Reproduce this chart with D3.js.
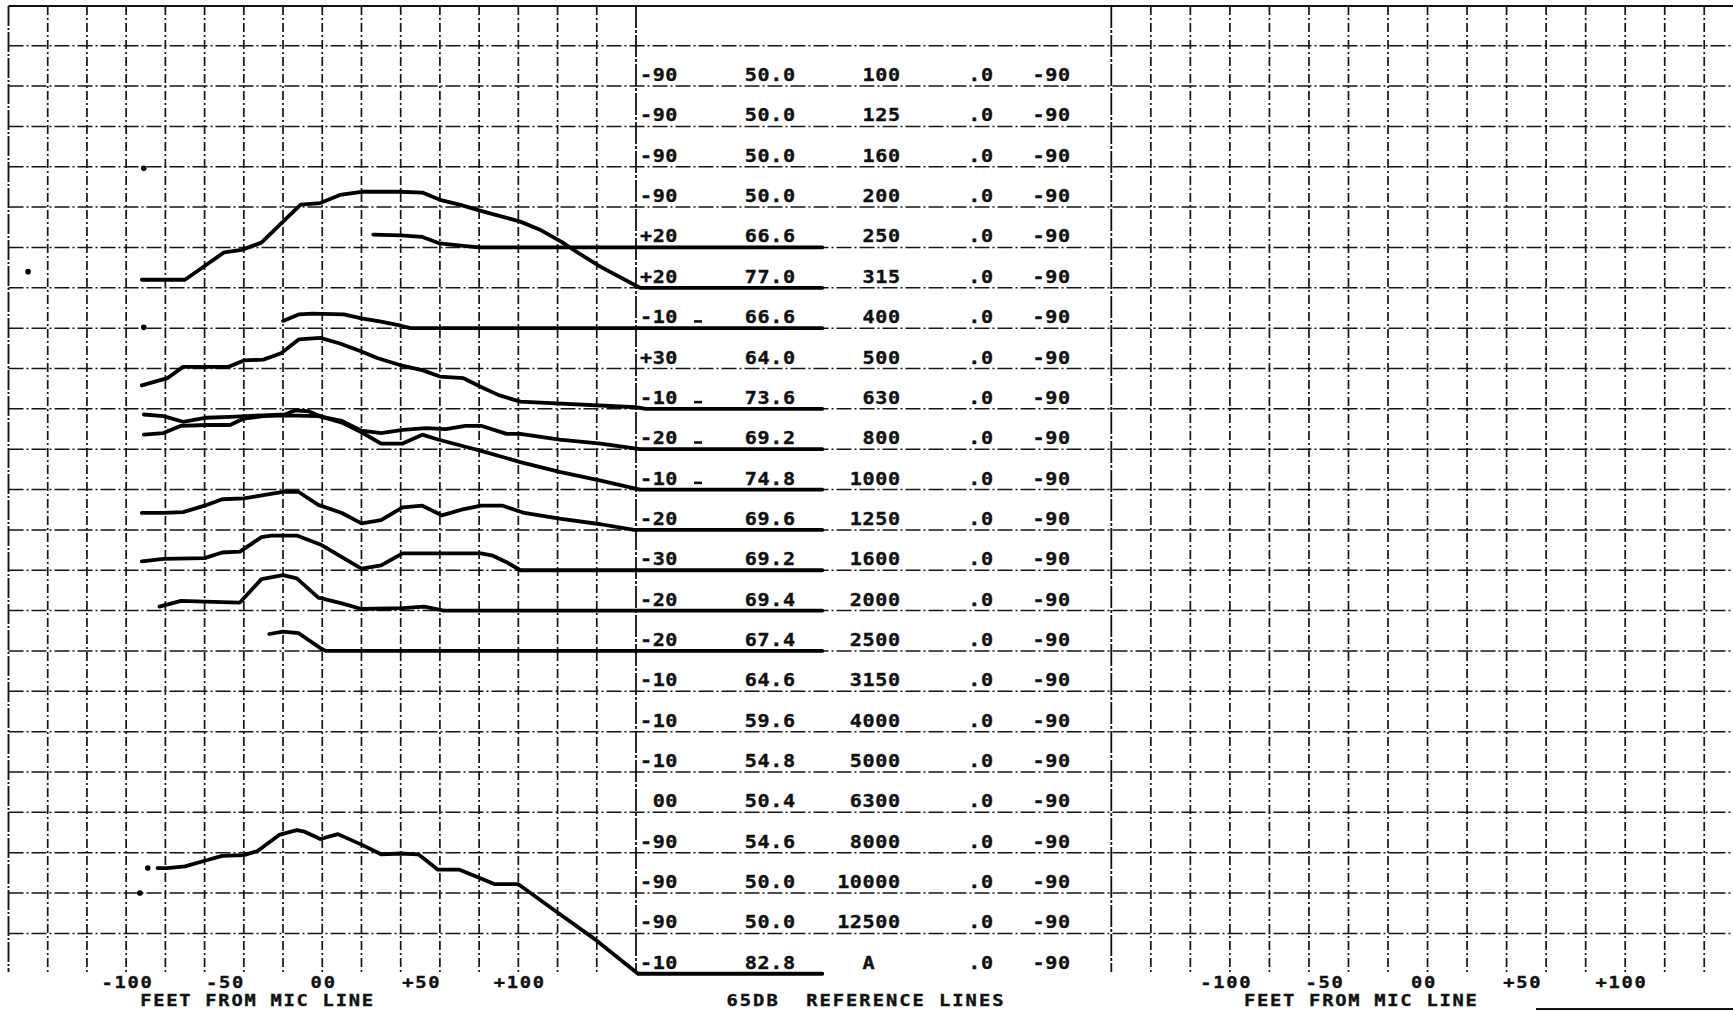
<!DOCTYPE html>
<html>
<head>
<meta charset="utf-8">
<script src="https://cdn.jsdelivr.net/npm/d3@7"></script>
<style>
  html, body { margin: 0; padding: 0; background: #fff; }
  svg { display: block; }
  text { font-family: "DejaVu Sans Mono", monospace; font-weight: bold; fill: #111; stroke: #111; stroke-width: 0.35; white-space: pre; }
</style>
</head>
<body>
<svg id="chart" width="1733" height="1011"></svg>
<script>
// ---- table columns, one entry per row, top to bottom ----
const freqs = ['100', '125', '160', '200', '250', '315', '400', '500', '630', '800', '1000', '1250',
  '1600', '2000', '2500', '3150', '4000', '5000', '6300', '8000', '10000', '12500', 'A  '];
const angleCol = ['-90', '-90', '-90', '-90', '+20', '+20', '-10', '+30', '-10', '-20', '-10', '-20',
  '-30', '-20', '-20', '-10', '-10', '-10', ' 00', '-90', '-90', '-90', '-10'];
const maxLevel = ['50.0', '50.0', '50.0', '50.0', '66.6', '77.0', '66.6', '64.0', '73.6', '69.2', '74.8', '69.6',
  '69.2', '69.4', '67.4', '64.6', '59.6', '54.8', '50.4', '54.6', '50.0', '50.0', '82.8'];
const zeroCol = ['.0', '.0', '.0', '.0', '.0', '.0', '.0', '.0', '.0', '.0', '.0', '.0',
  '.0', '.0', '.0', '.0', '.0', '.0', '.0', '.0', '.0', '.0', '.0'];
const lastCol = ['-90', '-90', '-90', '-90', '-90', '-90', '-90', '-90', '-90', '-90', '-90', '-90',
  '-90', '-90', '-90', '-90', '-90', '-90', '-90', '-90', '-90', '-90', '-90'];
const markRows = ['400', '630', '800', '1000'];

// ---- time histories: [feet from mic line, dB] ----
const c250 = [[26, 66.6], [40, 66.5], [51, 66.3], [60, 65.5], [72, 65.2], [80, 65]];
const c315 = [[-92, 66.0], [-70, 66.0], [-50, 69.4], [-41, 69.7], [-31, 70.6], [-20, 73.2], [-11, 75.3],
  [-1, 75.5], [9, 76.5], [20, 76.9], [40, 76.9], [51, 76.8], [60, 75.9], [70, 75.3], [80, 74.6], [86, 74.2],
  [101, 73.2], [111, 72.2], [122, 70.7], [132, 69.1], [142, 67.6], [162, 65.0]];
const c400 = [[-20, 65.9], [-12, 66.7], [-5, 66.8], [11, 66.7], [20, 66.2], [30, 65.8], [40, 65.3], [45, 65]];
const c630 = [[-92, 67.9], [-79, 68.8], [-71, 70.2], [-48, 70.2], [-40, 71.0], [-30, 71.1], [-21, 71.9],
  [-12, 73.6], [-1, 73.8], [9, 73.1], [20, 72.1], [28, 71.3], [40, 70.4], [51, 69.8], [60, 69.0], [72, 68.8],
  [81, 67.7], [90, 66.7], [101, 65.9], [160, 65.2], [165, 65]];
const c800 = [[-91, 66.8], [-81, 67.0], [-72, 67.9], [-59, 68.0], [-47, 68.0], [-40, 68.8], [-30, 69.1],
  [-19, 69.2], [-2, 69.1], [10, 68.5], [20, 67.3], [30, 67.0], [41, 67.4], [53, 67.6], [63, 67.5], [73, 67.9],
  [81, 67.9], [94, 66.9], [101, 66.9], [121, 66.2], [142, 65.7], [162, 65.0]];
const c1000 = [[-91, 74.3], [-81, 74.1], [-71, 73.4], [-59, 73.9], [-47, 74.0], [-30, 74.2], [-19, 74.3],
  [-14, 74.8], [-7, 74.7], [0, 74.0], [10, 73.3], [20, 72.1], [30, 70.7], [41, 70.7], [51, 71.8], [59, 71.2],
  [73, 70.3], [81, 69.8], [101, 68.4], [121, 67.2], [142, 66.1], [162, 65.0]];
const c1250 = [[-92, 67.1], [-81, 67.1], [-71, 67.2], [-60, 68.0], [-51, 68.8], [-40, 68.9], [-30, 69.3],
  [-20, 69.7], [-12, 69.7], [-2, 68.1], [10, 67.1], [20, 65.8], [30, 66.2], [41, 67.8], [51, 68.0], [61, 66.8],
  [71, 67.5], [81, 68.0], [92, 68.0], [103, 67.1], [121, 66.4], [142, 65.7], [159, 65.0]];
const c1600 = [[-92, 66.1], [-81, 66.4], [-60, 66.5], [-51, 67.2], [-42, 67.3], [-31, 69.1], [-26, 69.3],
  [-13, 69.3], [-1, 68.2], [20, 65.2], [30, 65.6], [41, 67.1], [60, 67.1], [81, 67.1], [87, 66.8], [94, 66.0],
  [101, 65.0], [160, 65]];
const c2000 = [[-83, 65.5], [-72, 66.2], [-60, 66.1], [-42, 66.0], [-31, 68.9], [-20, 69.4], [-13, 69.0],
  [-2, 66.6], [10, 65.9], [20, 65.2], [41, 65.3], [52, 65.5], [62, 65.0], [160, 65]];
const c2500 = [[-27, 67.1], [-20, 67.4], [-12, 67.2], [0, 65.2], [2, 65], [160, 65]];
const cA = [[-84, 78.1], [-79, 78.1], [-70, 78.3], [-60, 79.0], [-51, 79.6], [-40, 79.7], [-33, 80.2],
  [-22, 82.2], [-13, 82.8], [-9, 82.6], [-1, 81.7], [8, 82.3], [20, 81.0], [30, 79.8], [40, 79.9], [49, 79.8],
  [59, 77.9], [70, 77.9], [80, 76.9], [88, 76.1], [100, 76.1], [120, 72.6], [140, 69.1], [161, 65.0]];
const curveRows = ['250', '315', '400', '630', '800', '1000', '1250', '1600', '2000', '2500', 'A  '];
const curveData = [c250, c315, c400, c630, c800, c1000, c1250, c1600, c2000, c2500, cA];

// stray pen dots: [row, feet, dB]
const strayDots = [['315', -150, 67.0], ['160', -91, 64.8], ['400', -91, 65.1], ['A  ', -89, 78.1], ['A  ', -93, 75.0]];

const refLevel = 65;     // 65 dB reference lines
const refEndFeet = 255;  // reference line runs on under the table
const tickValues = [-100, -50, 0, 50, 100];
const tickLabels = ['-100', '-50', '00', '+50', '+100'];

// ---- layout ----
const width = 1733;
const gridTop = 6;
const rowTop = 45.7;
const rowH = 40.35;
const gridBottom = 972;
const tableL = 636;
const tableR = 1111.3;

const svg = d3.select('#chart');

const leftX = d3.scaleLinear().domain([-160, 160]).range([8.5, tableL]);
const rightX = d3.scaleLinear().domain([-160, 160]).range([tableR, tableR + 16 * 39.53]);
const rowY = d3.scaleLinear().domain([0, freqs.length]).range([rowTop, rowTop + freqs.length * rowH]);
const dbY = d3.scaleLinear().domain([refLevel, refLevel + 5]).range([0, -rowH]);
const baseOf = row => rowY(freqs.indexOf(row) + 1);

const grid = svg.append('g').attr('id', 'grid');

// horizontal dash-dot lines
grid.selectAll('.hline')
  .data(d3.range(0, freqs.length))
  .enter()
  .append('line')
  .attr('x1', leftX(-160))
  .attr('x2', width)
  .attr('y1', d => rowY(d))
  .attr('y2', d => rowY(d))
  .attr('stroke', '#151515')
  .attr('stroke-width', 1.5)
  .attr('stroke-dasharray', '15,3,2,3');

grid.append('line')
  .attr('x1', leftX(-160)).attr('x2', width)
  .attr('y1', gridTop).attr('y2', gridTop)
  .attr('stroke', '#111').attr('stroke-width', 2.2);

// vertical lines, left and right panels
const vFeet = d3.range(-160, 161, 20);
grid.selectAll('.vleft')
  .data(vFeet.filter(d => d < 160))
  .enter()
  .append('line')
  .attr('x1', d => leftX(d))
  .attr('x2', d => leftX(d))
  .attr('y1', gridTop)
  .attr('y2', gridBottom)
  .attr('stroke', '#151515')
  .attr('stroke-width', d => (d === -160 ? 1.9 : 1.7))
  .attr('stroke-dasharray', d => (d === -160 ? '20,2,2,2' : '9,3,2,3'));

grid.selectAll('.vright')
  .data(vFeet.filter(d => d > -160))
  .enter()
  .append('line')
  .attr('x1', d => rightX(d))
  .attr('x2', d => rightX(d))
  .attr('y1', gridTop)
  .attr('y2', gridBottom)
  .attr('stroke', '#151515')
  .attr('stroke-width', 1.7)
  .attr('stroke-dasharray', '9,3,2,3');

// table borders
grid.selectAll('.border')
  .data([tableL, tableR])
  .enter()
  .append('line')
  .attr('x1', d => d).attr('x2', d => d)
  .attr('y1', gridTop).attr('y2', gridBottom)
  .attr('stroke', '#111')
  .attr('stroke-width', 1.8)
  .attr('stroke-dasharray', '22,2,3,2');

// ---- curves ----
const line = base => d3.line()
  .x(d => leftX(d[0]))
  .y(d => base + dbY(Math.max(refLevel, d[1])));

const curves = svg.append('g').attr('id', 'curves');
curveRows.forEach((row, i) => {
  const base = baseOf(row);
  const pts = curveData[i].concat([[refEndFeet, refLevel]]);
  curves.append('path')
    .attr('d', line(base)(pts))
    .attr('fill', 'none')
    .attr('stroke', '#000')
    .attr('stroke-width', 3.8)
    .attr('stroke-linejoin', 'round')
    .attr('stroke-linecap', 'round');
});

curves.selectAll('.dot')
  .data(strayDots)
  .enter()
  .append('circle')
  .attr('cx', d => leftX(d[1]))
  .attr('cy', d => baseOf(d[0]) + dbY(d[2]))
  .attr('r', 2.8)
  .attr('fill', '#000');

// wide "printer" text: x is the anchor point, sx the horizontal stretch
const wideText = (sel, x, y, anchor, size, sx, ls) => sel
  .attr('transform', 'translate(' + x + ',' + y + ') scale(' + sx + ',1)')
  .attr('text-anchor', anchor)
  .attr('dx', anchor === 'end' ? ls : anchor === 'middle' ? ls / 2 : 0)
  .style('font-size', size + 'px')
  .style('letter-spacing', ls + 'px');

// ---- table text ----
const cols = [
  { x: 640, anchor: 'start', values: angleCol },
  { x: 795, anchor: 'end', values: maxLevel },
  { x: 900, anchor: 'end', values: freqs },
  { x: 993, anchor: 'end', values: zeroCol },
  { x: 1070, anchor: 'end', values: lastCol }
];
const table = svg.append('g').attr('id', 'table');
cols.forEach(col => {
  table.selectAll(null)
    .data(col.values)
    .enter()
    .append('text')
    .text(d => d)
    .each(function (d, i) {
      wideText(d3.select(this), col.x, rowY(i + 1) - 5, col.anchor, 17.5, 1.15, 0.5);
    });
});

table.selectAll('.mark')
  .data(markRows)
  .enter()
  .append('rect')
  .attr('x', 694)
  .attr('y', d => baseOf(d) - 8)
  .attr('width', 8)
  .attr('height', 2.6)
  .attr('fill', '#111');

// ---- axes ----
const addAxis = (scale, dx) => {
  const g = svg.append('g')
    .attr('transform', 'translate(' + dx + ',' + gridBottom + ')')
    .call(d3.axisBottom(scale)
      .tickValues(tickValues)
      .tickFormat((d, i) => tickLabels[i])
      .tickSize(0)
      .tickPadding(5));
  g.select('.domain').remove();
  g.attr('font-family', null).attr('font-size', null);
  g.selectAll('.tick text')
    .attr('y', null)
    .attr('dy', null)
    .each(function () {
      wideText(d3.select(this), 0, 15.5, 'middle', 15, 1.25, 1.4);
    });
};
addAxis(leftX, 0);
addAxis(rightX, -5);

const titles = [
  { text: 'FEET FROM MIC LINE', x: leftX(-33.5), ls: 1.4 },
  { text: '65DB  REFERENCE LINES', x: 865, ls: 1.6 },
  { text: 'FEET FROM MIC LINE', x: rightX(-34), ls: 1.4 }
];
svg.selectAll('.title')
  .data(titles)
  .enter()
  .append('text')
  .text(d => d.text)
  .each(function (d) {
    wideText(d3.select(this), d.x, 1006, 'middle', 15, 1.25, d.ls);
  });

// bottom edge of the sheet
svg.append('line')
  .attr('x1', 1536).attr('x2', width)
  .attr('y1', 1009).attr('y2', 1009)
  .attr('stroke', '#111').attr('stroke-width', 2);
</script>
</body>
</html>
